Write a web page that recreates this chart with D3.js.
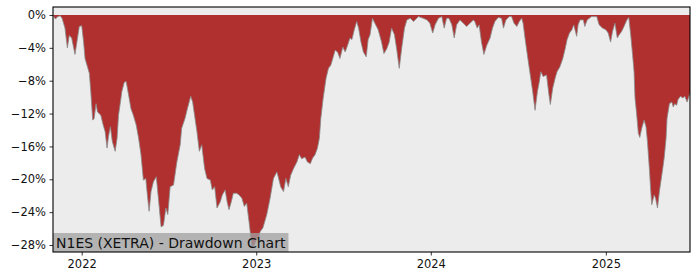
<!DOCTYPE html>
<head>
  <meta charset="utf-8">
  <script src="https://d3js.org/d3.v7.min.js"></script>
  <style>
    body { margin:0; background:#fff; }
    svg { font-family: "DejaVu Sans", sans-serif; display:block; }
  </style>
</head>
<body>
<svg width="700" height="280"></svg>

<script>
  var dates = [
    "2021-11-02","2021-11-07","2021-11-12","2021-11-17","2021-11-21","2021-11-27","2021-12-02","2021-12-06",
    "2021-12-11","2021-12-18","2021-12-22","2021-12-27","2022-01-01","2022-01-05","2022-01-08","2022-01-13",
    "2022-01-17","2022-01-20","2022-01-24","2022-01-27","2022-01-31","2022-02-03","2022-02-10","2022-02-14",
    "2022-02-19","2022-02-23","2022-02-26","2022-03-02","2022-03-06","2022-03-12","2022-03-16","2022-03-19",
    "2022-03-23","2022-03-26","2022-03-31","2022-04-04","2022-04-09","2022-04-14","2022-04-19","2022-04-25",
    "2022-04-30","2022-05-05","2022-05-10","2022-05-15","2022-05-19","2022-05-22","2022-05-26","2022-05-31",
    "2022-06-06","2022-06-11","2022-06-16","2022-06-21","2022-06-26","2022-06-30","2022-07-05","2022-07-12",
    "2022-07-19","2022-07-26","2022-07-29","2022-08-05","2022-08-10","2022-08-17","2022-08-21","2022-08-25",
    "2022-08-30","2022-09-04","2022-09-09","2022-09-15","2022-09-20","2022-09-27","2022-10-01","2022-10-06",
    "2022-10-11","2022-10-18","2022-10-22","2022-10-28","2022-11-01","2022-11-05","2022-11-10","2022-11-14",
    "2022-11-21","2022-11-26","2022-12-02","2022-12-07","2022-12-12","2022-12-17","2022-12-23","2022-12-28",
    "2023-01-01","2023-01-06","2023-01-09","2023-01-15","2023-01-23","2023-01-30","2023-02-06","2023-02-13",
    "2023-02-16","2023-02-21","2023-02-27","2023-03-04","2023-03-09","2023-03-14","2023-03-20","2023-03-27",
    "2023-04-01","2023-04-06","2023-04-13","2023-04-18","2023-04-24","2023-04-29","2023-05-04","2023-05-09",
    "2023-05-13","2023-05-16","2023-05-21","2023-05-27","2023-06-01","2023-06-06","2023-06-10","2023-06-15",
    "2023-06-20","2023-06-25","2023-07-01","2023-07-06","2023-07-11","2023-07-16","2023-07-20","2023-07-25",
    "2023-07-30","2023-08-03","2023-08-08","2023-08-13","2023-08-19","2023-08-23","2023-08-27","2023-09-01",
    "2023-09-06","2023-09-13","2023-09-20","2023-09-25","2023-10-01","2023-10-06","2023-10-11","2023-10-17",
    "2023-10-22","2023-10-27","2023-11-01","2023-11-07","2023-11-12","2023-11-19","2023-11-26","2023-12-06",
    "2023-12-16","2023-12-24","2023-12-30","2024-01-05","2024-01-10","2024-01-17","2024-01-24","2024-01-29",
    "2024-02-03","2024-02-08","2024-02-14","2024-02-19","2024-02-24","2024-03-02","2024-03-09","2024-03-16",
    "2024-03-23","2024-03-30","2024-04-02","2024-04-07","2024-04-11","2024-04-16","2024-04-21","2024-04-27",
    "2024-05-04","2024-05-09","2024-05-14","2024-05-21","2024-05-28","2024-06-01","2024-06-06","2024-06-13",
    "2024-06-18","2024-06-23","2024-06-29","2024-07-04","2024-07-09","2024-07-12","2024-07-16","2024-07-21",
    "2024-07-26","2024-08-01","2024-08-06","2024-08-11","2024-08-15","2024-08-18","2024-08-23","2024-08-30",
    "2024-09-04","2024-09-07","2024-09-12","2024-09-17","2024-09-21","2024-09-27","2024-10-03","2024-10-08",
    "2024-10-12","2024-10-17","2024-10-22","2024-10-26","2024-11-01","2024-11-04","2024-11-08","2024-11-15",
    "2024-11-18","2024-11-23","2024-12-02","2024-12-13","2024-12-18","2024-12-25","2025-01-01","2025-01-06",
    "2025-01-11","2025-01-15","2025-01-20","2025-01-25","2025-01-29","2025-02-03","2025-02-08","2025-02-14",
    "2025-02-18","2025-02-22","2025-02-26","2025-03-01","2025-03-03","2025-03-06","2025-03-10","2025-03-13",
    "2025-03-17","2025-03-22","2025-03-26","2025-03-29","2025-04-02","2025-04-05","2025-04-07","2025-04-12",
    "2025-04-15","2025-04-19","2025-04-23","2025-04-26","2025-04-30","2025-05-03","2025-05-07","2025-05-09",
    "2025-05-14","2025-05-19","2025-05-22","2025-05-25","2025-05-29","2025-06-01","2025-06-06","2025-06-11",
    "2025-06-15","2025-06-20","2025-06-26"
  ];

  // drawdown in percent
  var drawdown = [
    0.0,-0.5,-0.2,-0.1,-0.4,-1.6,-4.0,-2.5,
    -2.8,-4.8,-3.3,-1.4,-1.3,-3.3,-5.3,-6.3,
    -7.1,-9.3,-12.8,-12.6,-10.8,-11.8,-12.2,-13.2,
    -14.2,-16.2,-14.8,-13.6,-15.4,-16.6,-15.0,-12.2,
    -10.6,-9.3,-8.2,-8.1,-9.7,-11.4,-12.2,-13.4,
    -15.0,-17.0,-20.1,-19.9,-22.3,-23.9,-21.5,-20.3,
    -19.7,-22.7,-25.8,-25.6,-23.5,-24.3,-20.9,-20.7,
    -17.9,-15.8,-13.8,-12.6,-11.4,-9.9,-10.6,-12.2,
    -14.2,-16.6,-15.8,-18.7,-19.9,-20.1,-21.3,-20.9,
    -23.5,-22.7,-21.9,-21.3,-22.7,-23.7,-22.7,-21.7,
    -21.7,-21.9,-22.3,-23.3,-22.9,-25.2,-28.2,-28.0,
    -27.4,-27.2,-26.4,-25.9,-24.3,-22.3,-19.9,-19.1,
    -19.7,-20.9,-21.5,-19.9,-20.9,-19.5,-18.7,-17.9,
    -17.0,-17.5,-17.3,-17.9,-18.1,-17.4,-17.0,-16.2,
    -15.0,-12.6,-10.1,-7.7,-6.5,-6.1,-5.3,-4.3,
    -4.5,-5.3,-3.9,-4.5,-3.7,-2.8,-3.0,-1.8,
    -0.8,-1.6,-3.3,-4.5,-5.1,-3.0,-2.4,-0.4,
    -1.0,-1.8,-3.3,-4.7,-4.1,-3.3,-1.6,-2.4,
    -4.3,-6.5,-4.1,-1.6,-0.6,-0.4,-0.8,-0.2,
    -0.4,-0.6,-1.0,-2.2,-1.2,-0.4,-0.2,-1.6,
    -0.4,-0.4,-1.2,-2.8,-1.2,-0.6,-1.0,-1.4,
    -1.0,-0.6,-0.8,-1.6,-1.2,-3.3,-4.8,-3.7,
    -2.8,-1.6,-0.8,-0.3,-0.4,-1.6,-0.6,-0.2,
    -0.2,-1.0,-1.4,-0.8,-0.4,-1.0,-2.8,-4.9,
    -6.9,-9.3,-11.6,-9.3,-8.1,-6.9,-7.5,-7.3,
    -9.7,-10.9,-8.9,-7.7,-6.9,-6.3,-5.3,-4.1,
    -3.0,-2.2,-1.8,-1.2,-2.6,-1.2,-0.6,-0.6,
    -1.4,-0.6,-0.2,-0.2,-1.2,-1.6,-1.8,-2.2,
    -3.3,-2.0,-1.0,-2.8,-2.4,-2.0,-1.4,-0.6,
    -0.3,-2.4,-4.9,-6.9,-10.1,-11.8,-14.4,-14.9,
    -13.8,-12.8,-13.6,-15.4,-18.7,-21.5,-23.1,-21.9,
    -22.3,-23.5,-21.5,-20.3,-18.7,-17.4,-15.0,-12.6,
    -10.8,-10.6,-11.2,-10.8,-11.0,-10.3,-9.9,-10.1,
    -9.9,-10.6,-9.5
  ];

  var yTicks = [0, -4, -8, -12, -16, -20, -24, -28];
  var xTickYears = [2022, 2023, 2024, 2025];
  var title = "N1ES (XETRA) - Drawdown Chart";

  var parse = d3.timeParse("%Y-%m-%d");
  var data = dates.map(function (d, i) { return { date: parse(d), value: drawdown[i] }; });

  var svg = d3.select("svg");
  var margin = { left: 53, right: 10, top: 7, bottom: 28 };
  var width = 700 - margin.left - margin.right;
  var height = 280 - margin.top - margin.bottom;

  var x = d3.scaleTime()
    .domain(d3.extent(data, function (d) { return d.date; }))
    .range([0, width]);
  var y = d3.scaleLinear()
    .domain([-28.85, 0.97])
    .range([height, 0]);

  var g = svg.append("g").attr("transform", "translate(" + margin.left + "," + margin.top + ")");

  g.append("rect")
    .attr("width", width).attr("height", height)
    .attr("fill", "#ececec");

  var area = d3.area()
    .x(function (d) { return x(d.date); })
    .y0(y(0))
    .y1(function (d) { return y(d.value); });

  g.append("path")
    .datum(data)
    .attr("d", area)
    .attr("fill", "#b03030");

  var line = d3.line()
    .x(function (d) { return x(d.date); })
    .y(function (d) { return y(d.value); });

  g.append("path")
    .datum(data)
    .attr("d", line)
    .attr("fill", "none")
    .attr("stroke", "#8a8a8a")
    .attr("stroke-width", 0.8);

  // title box bottom-left
  var tb = g.append("g").attr("transform", "translate(0," + height + ")");
  var label = tb.append("text")
    .attr("x", 3).attr("y", -4)
    .attr("font-size", "14px")
    .attr("fill", "#111")
    .text(title);
  var tw = label.node().getComputedTextLength();
  tb.insert("rect", "text")
    .attr("x", 0).attr("y", -19)
    .attr("width", tw + 6).attr("height", 19)
    .attr("fill", "#a0a0a0").attr("fill-opacity", 0.75);

  var fmt = function (v) { return (v < 0 ? "\u2212" + (-v) : v) + "%"; };

  var yAxis = g.append("g")
    .call(d3.axisLeft(y).tickValues(yTicks).tickFormat(fmt).tickSize(3.5).tickPadding(3.5));

  var xAxis = g.append("g")
    .attr("transform", "translate(0," + height + ")")
    .call(d3.axisBottom(x)
      .tickValues(xTickYears.map(function (yr) { return new Date(yr, 0, 1); }))
      .tickFormat(d3.timeFormat("%Y"))
      .tickSize(3.5).tickPadding(4.5));

  [yAxis, xAxis].forEach(function (ax) {
    ax.select(".domain").remove();
    ax.selectAll("line").attr("stroke", "#000").attr("stroke-width", 0.8);
    ax.selectAll("text").attr("font-family", "DejaVu Sans").attr("font-size", "11.5px").attr("fill", "#111");
  });

  g.append("rect")
    .attr("width", width).attr("height", height)
    .attr("fill", "none")
    .attr("stroke", "#000")
    .attr("stroke-width", 1.1);
</script>
</body>
